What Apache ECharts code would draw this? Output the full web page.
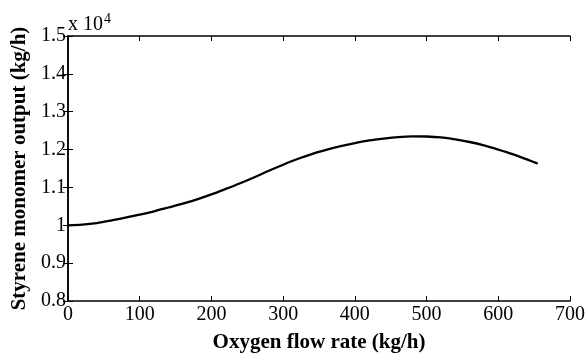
<!DOCTYPE html>
<html>
<head>
<meta charset="utf-8">
<script src="https://cdn.jsdelivr.net/npm/echarts@6/dist/echarts.min.js"></script>
<style>html,body{margin:0;padding:0;background:#fff}#c{width:586px;height:353px}</style>
</head>
<body>
<div id="c"></div>
<script>
// Oxygen flow rate (kg/h)
var oxygenFlow = [0, 20, 40, 60, 80, 100, 120, 140, 160, 180, 200, 220, 240, 260, 280, 300, 320, 340, 360, 380, 400, 420, 440, 460, 480, 500, 520, 540, 560, 580, 600, 620, 640, 655];
// Styrene monomer output (kg/h)
var styreneOutput = [10000, 10020, 10060, 10125, 10200, 10280, 10370, 10470, 10570, 10685, 10815, 10960, 11110, 11270, 11440, 11600, 11750, 11880, 11990, 12090, 12170, 12240, 12290, 12330, 12350, 12345, 12320, 12270, 12200, 12110, 12000, 11880, 11740, 11630];
var xTicks = [0, 100, 200, 300, 400, 500, 600, 700];
var yTicks = [8000, 9000, 10000, 11000, 12000, 13000, 14000, 15000];

var font = 'Liberation Serif';
var chart = echarts.init(document.getElementById('c'));
var pts = oxygenFlow.map(function (x, i) { return [x, styreneOutput[i]]; });
var axLine = { show: true, lineStyle: { color: '#000', width: 1.5 } };
var tick = { show: true, inside: true, length: 5, lineStyle: { color: '#000', width: 1 } };
chart.setOption({
  animation: false,
  backgroundColor: '#fff',
  grid: { left: 68, right: 16, top: 36, bottom: 52, containLabel: false, outerBoundsMode: 'none' },
  xAxis: [{
    type: 'value', min: xTicks[0], max: xTicks[xTicks.length - 1], interval: 100,
    position: 'bottom',
    name: 'Oxygen flow rate (kg/h)', nameLocation: 'middle', nameGap: 31,
    nameTextStyle: { fontFamily: font, fontSize: 21, fontWeight: 'bold', color: '#000' },
    axisLine: axLine, axisTick: tick, splitLine: { show: false },
    axisLabel: { fontFamily: font, fontSize: 20, color: '#000', margin: 4 }
  }, {
    type: 'value', min: xTicks[0], max: xTicks[xTicks.length - 1], interval: 100,
    position: 'top', axisLine: axLine, axisTick: tick, splitLine: { show: false },
    axisLabel: { show: false }
  }],
  yAxis: [{
    type: 'value', min: yTicks[0], max: yTicks[yTicks.length - 1], interval: 1000,
    position: 'left',
    name: 'Styrene monomer output (kg/h)', nameLocation: 'middle', nameGap: 35,
    nameTextStyle: { fontFamily: font, fontSize: 21, fontWeight: 'bold', color: '#000' },
    axisLine: axLine, axisTick: tick, splitLine: { show: false },
    axisLabel: { fontFamily: font, fontSize: 20, color: '#000', margin: 2,
      formatter: function (v) { return String(+(v / 1e4).toFixed(1)); } }
  }, {
    type: 'value', min: yTicks[0], max: yTicks[yTicks.length - 1], interval: 1000,
    position: 'right', axisLine: axLine, axisTick: tick, splitLine: { show: false },
    axisLabel: { show: false }
  }],
  graphic: [{
    type: 'text', left: 68, top: 12,
    style: {
      text: '{a|x 10}{b|4}',
      rich: {
        a: { fontFamily: font, fontSize: 20, fill: '#000', verticalAlign: 'bottom' },
        b: { fontFamily: font, fontSize: 14, fill: '#000', verticalAlign: 'top', padding: [0, 0, 9, 1] }
      }
    }
  }],
  series: [{
    type: 'line', data: pts, smooth: 0.3, showSymbol: false,
    lineStyle: { color: '#000', width: 2.3 }
  }]
});
</script>
</body>
</html>
